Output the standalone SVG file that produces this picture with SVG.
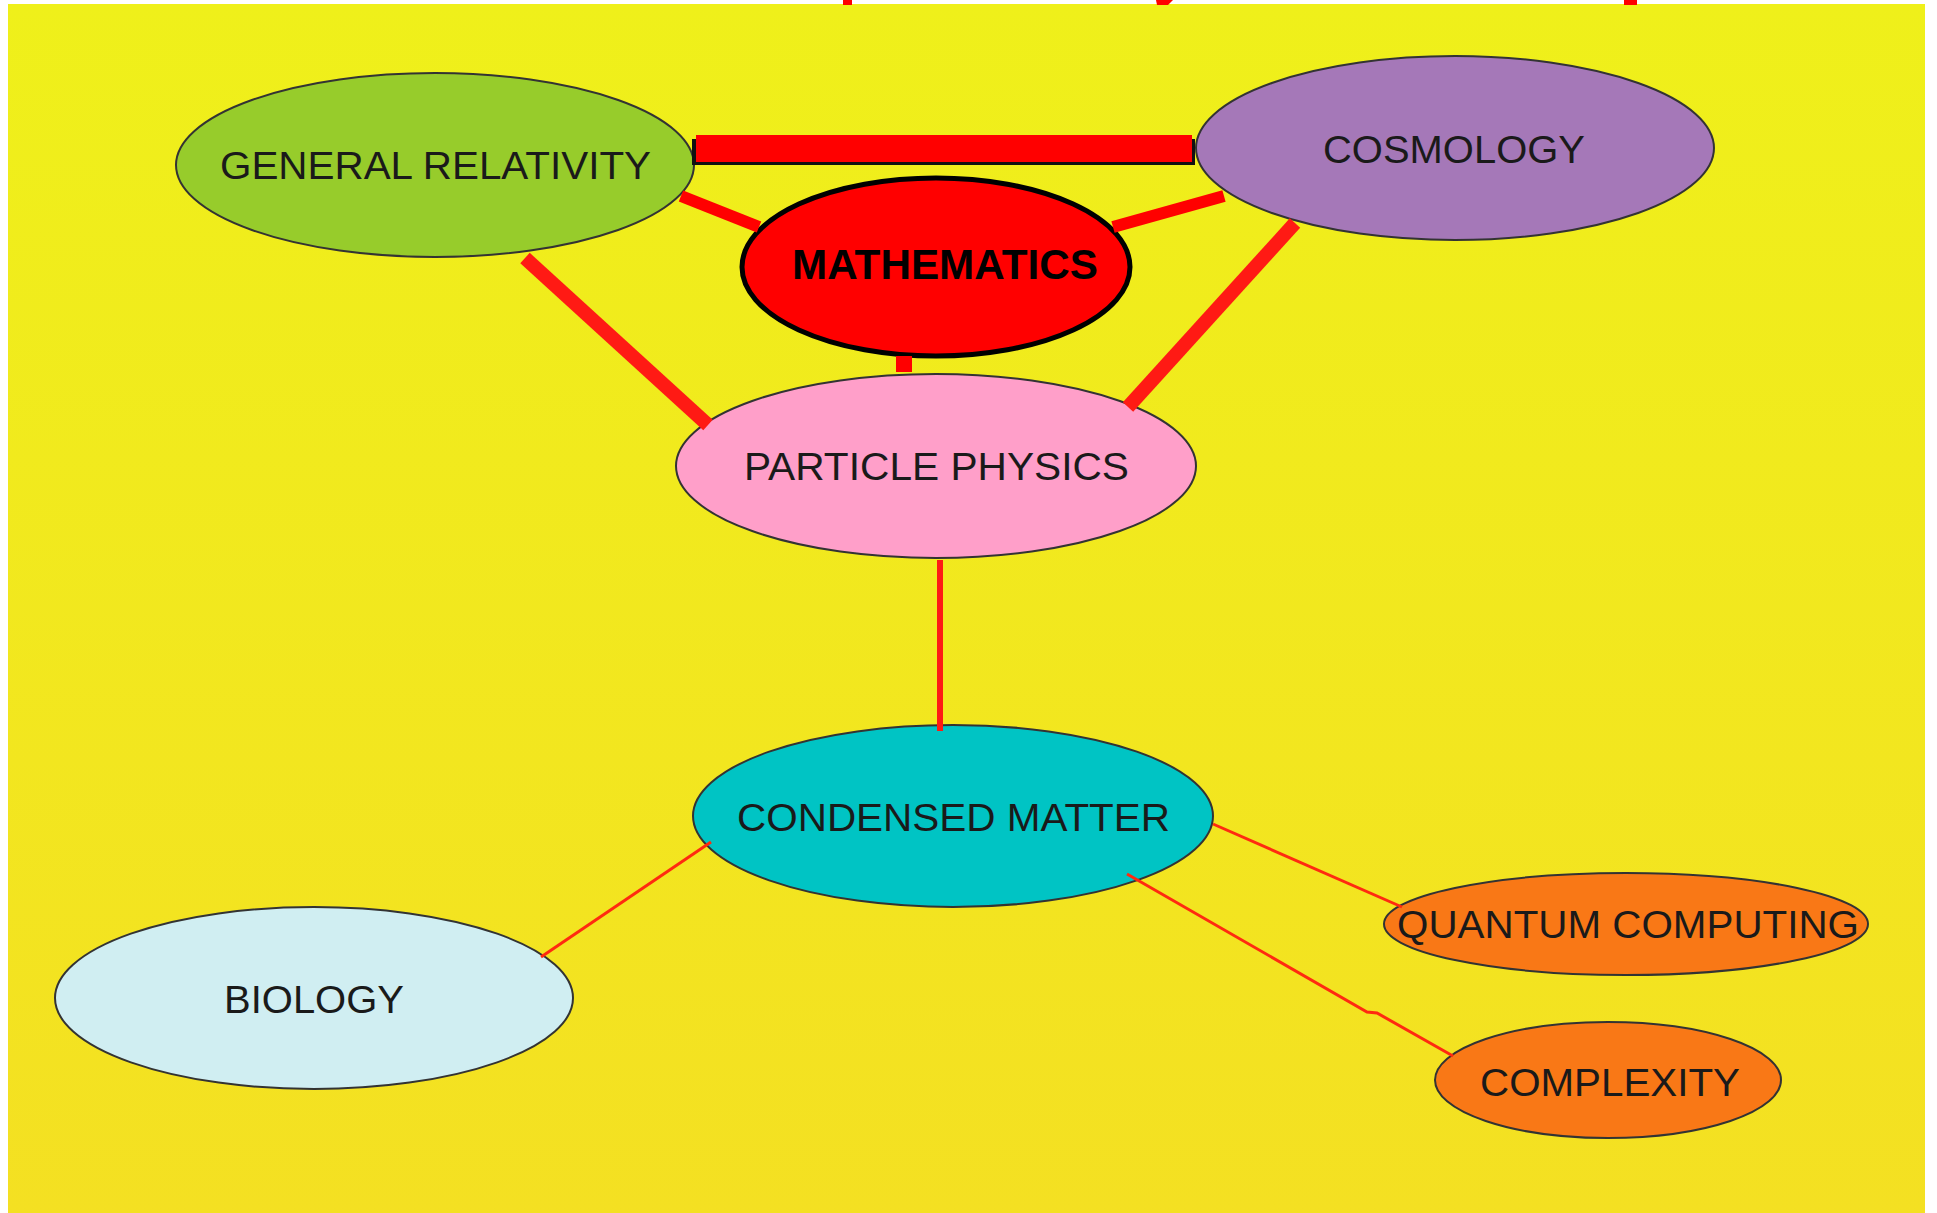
<svg xmlns="http://www.w3.org/2000/svg" width="1937" height="1213" viewBox="0 0 1937 1213">
<defs>
<linearGradient id="bg" x1="0" y1="0" x2="0" y2="1">
<stop offset="0" stop-color="#EFF01A"/>
<stop offset="1" stop-color="#F4E022"/>
</linearGradient>
</defs>
<style>
.node{stroke:#333333;stroke-width:2}
.lbl{font-family:"Liberation Sans",Arial,sans-serif;font-size:39px;fill:#1a1a1a;text-anchor:middle}
.thick{stroke:#FF1A14;stroke-width:14;fill:none}
.mid{stroke:#FF0000;stroke-width:12;fill:none}
.thin{stroke:#FF2A10;stroke-width:3;fill:none}
</style>
<rect x="0" y="0" width="1937" height="1213" fill="#FFFFFF"/>
<rect x="8" y="4" width="1917" height="1209" fill="url(#bg)"/>
<g id="title-fragments" fill="#FF0000">
<rect x="843" y="0" width="9" height="5"/>
<polygon points="1156,0 1173,0 1168,5 1157,5"/>
<rect x="1624" y="0" width="13" height="5"/>
</g>
<g id="node-general-relativity">
<ellipse class="node" cx="435" cy="165" rx="259" ry="92" fill="#97CC2B"/>
<text class="lbl" x="435.5" y="179" textLength="431" lengthAdjust="spacingAndGlyphs">GENERAL RELATIVITY</text>
</g>
<g id="node-cosmology">
<ellipse class="node" cx="1455" cy="148" rx="259" ry="92" fill="#A578B8"/>
<text class="lbl" x="1454" y="163" textLength="262" lengthAdjust="spacingAndGlyphs">COSMOLOGY</text>
</g>
<g id="node-mathematics">
<ellipse cx="936" cy="267" rx="194" ry="89" fill="#FF0000" stroke="#000000" stroke-width="5"/>
<text x="945" y="279" textLength="306" lengthAdjust="spacingAndGlyphs" style="font-family:'Liberation Sans',Arial,sans-serif;font-size:42px;font-weight:bold;fill:#000000;text-anchor:middle">MATHEMATICS</text>
</g>
<g id="node-particle-physics">
<ellipse class="node" cx="936" cy="466" rx="260" ry="92" fill="#FF9FC9"/>
<text class="lbl" x="936.5" y="480" textLength="385" lengthAdjust="spacingAndGlyphs">PARTICLE PHYSICS</text>
</g>
<g id="node-condensed-matter">
<ellipse class="node" cx="953" cy="816" rx="260" ry="91" fill="#00C4C4"/>
<text class="lbl" x="953.5" y="831" textLength="433" lengthAdjust="spacingAndGlyphs">CONDENSED MATTER</text>
</g>
<g id="node-biology">
<ellipse class="node" cx="314" cy="998" rx="259" ry="91" fill="#D0EEF2"/>
<text class="lbl" x="314" y="1013" textLength="180" lengthAdjust="spacingAndGlyphs">BIOLOGY</text>
</g>
<g id="node-quantum-computing">
<ellipse class="node" cx="1626" cy="924" rx="242" ry="51" fill="#F97816"/>
<text class="lbl" x="1628" y="938" textLength="462" lengthAdjust="spacingAndGlyphs">QUANTUM COMPUTING</text>
</g>
<g id="node-complexity">
<ellipse class="node" cx="1608" cy="1080" rx="173" ry="58" fill="#F97816"/>
<text class="lbl" x="1610" y="1096" textLength="260" lengthAdjust="spacingAndGlyphs">COMPLEXITY</text>
</g>
<g id="connectors">
<rect x="692" y="139" width="503" height="26" fill="#111111"/>
<rect x="696" y="135" width="496" height="27" fill="#FF0000"/>
<line class="mid" x1="681" y1="196" x2="759" y2="227"/>
<line class="mid" x1="1113" y1="227" x2="1224" y2="196"/>
<rect x="896" y="356" width="16" height="16" fill="#FF0000"/>
<line class="thick" x1="525" y1="258" x2="708" y2="425"/>
<line class="thick" x1="1295" y1="223" x2="1128" y2="407"/>
<line stroke="#FF1A14" stroke-width="6" x1="940" y1="560" x2="940" y2="731"/>
<line class="thin" x1="711" y1="842" x2="541" y2="957"/>
<line class="thin" x1="1213" y1="824" x2="1402" y2="907"/>
<polyline class="thin" points="1127,874 1367,1012 1377,1013 1453,1056"/>
</g>
</svg>
